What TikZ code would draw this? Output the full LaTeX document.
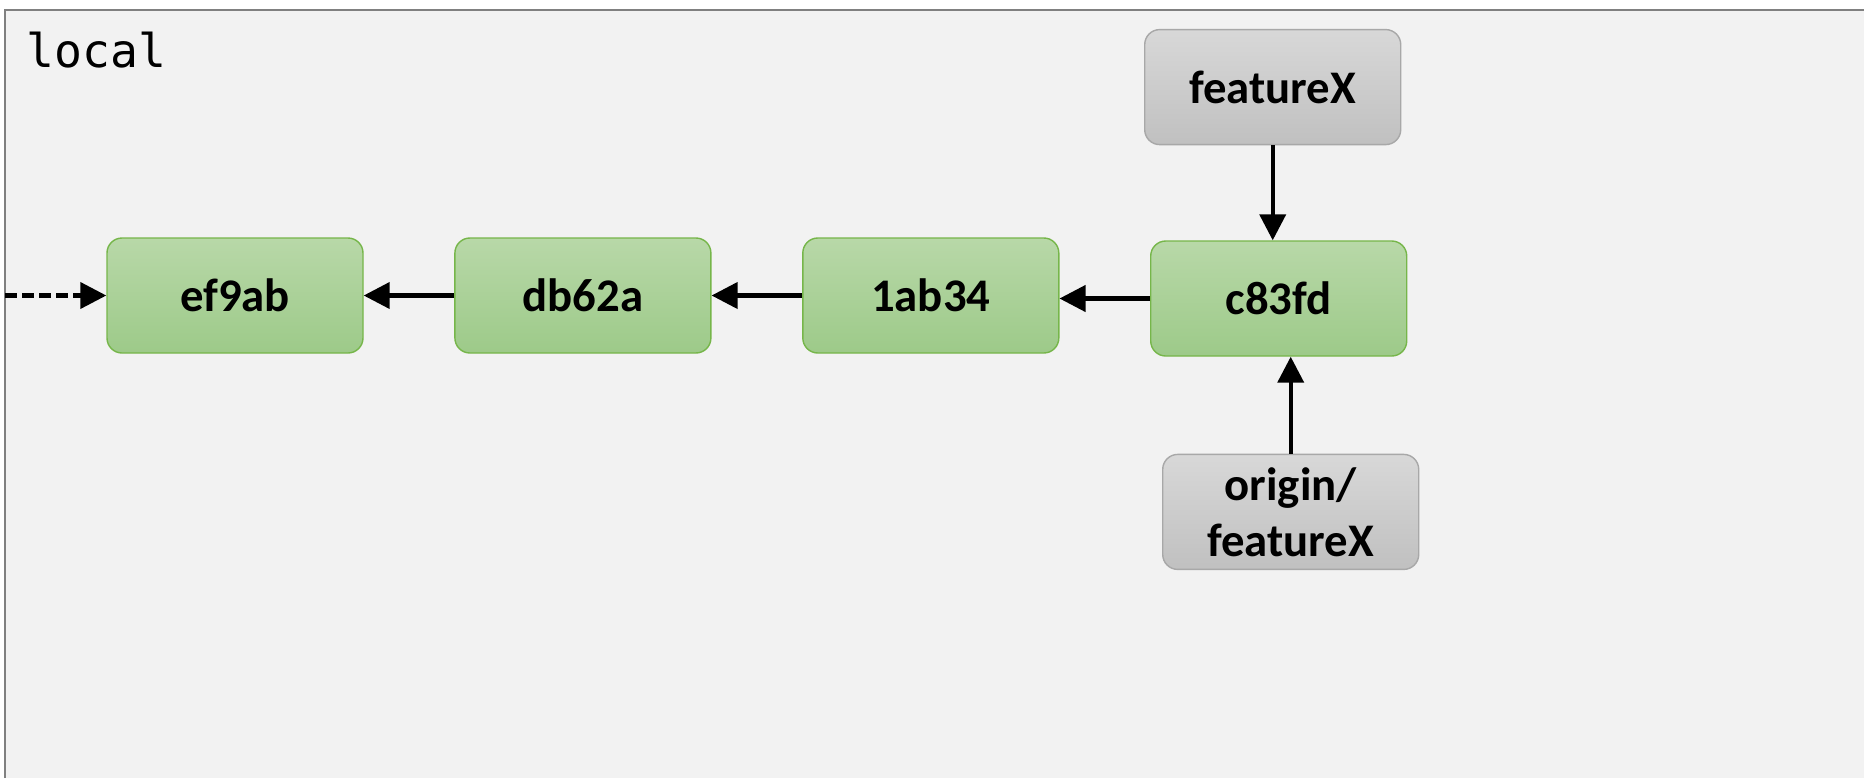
\documentclass[tikz,border=0pt]{standalone}
\usepackage{fontspec}
\setmainfont{Carlito}
\newfontfamily\codefont{DejaVu Sans Mono}
\usetikzlibrary{arrows.meta,positioning}
\definecolor{panel}{RGB}{242,242,242}
\definecolor{frameline}{RGB}{128,128,128}
\definecolor{greentop}{RGB}{184,216,168}
\definecolor{greenbot}{RGB}{157,202,137}
\definecolor{greenline}{RGB}{118,182,74}
\definecolor{graytop}{RGB}{216,216,216}
\definecolor{graybot}{RGB}{192,192,192}
\definecolor{grayline}{RGB}{168,168,168}

\begin{document}
\begin{tikzpicture}[
  >={Triangle[length=2.6mm, width=2.6mm]},
  node distance=9.05mm,
  box/.style={rounded corners=1.5mm, align=center, inner sep=0pt,
              font=\fontsize{13.3}{16}\selectfont\bfseries,
              minimum width=25.6mm, minimum height=11.5mm},
  commit/.style={box, draw=greenline, top color=greentop, bottom color=greenbot},
  branch/.style={box, draw=grayline, top color=graytop, bottom color=graybot},
  flow/.style={->, line width=1.15pt},
  hist/.style={flow, dash pattern=on 1.2mm off 0.5mm},
]
% ---- repository panel ------------------------------------------------------
\useasboundingbox (0,0) rectangle (18.64,7.78);
\fill[panel] (0.05,0) rectangle (18.64,7.68);
\draw[frameline, line width=0.6pt] (0.05,0) -- (0.05,7.68) -- (18.64,7.68);
\node[font=\codefont\fontsize{13.2}{14}\selectfont, anchor=base west,
      inner sep=0pt] (repo) at (0.26,7.11) {local};

% ---- commit chain ----------------------------------------------------------
\node[commit] (ef9ab) at (2.35,4.825) {ef9ab};
\node[commit, right=of ef9ab] (db62a) {db62a};
\node[commit, right=of db62a] (1ab34) {1ab34};
\node[commit, right=of 1ab34, yshift=-0.3mm] (c83fd) {c83fd};

\coordinate (tail) at (0.05,4.825);
\draw[hist] (tail) -- (ef9ab.west);
\foreach \a/\b in {db62a/ef9ab, 1ab34/db62a}
  \draw[flow] (\a) -- (\b);
\draw[flow] (c83fd.west) -- (c83fd.west -| 1ab34.east);

% ---- branch pointers -------------------------------------------------------
\node[branch, above=9.5mm of c83fd, xshift=-0.6mm] (featX) {featureX};
\node[branch, below=9.7mm of c83fd, xshift=1.2mm] (orgX) {origin/\\featureX};

\draw[flow] (featX.south) -- (featX.south |- c83fd.north);
\draw[flow] (orgX.north) -- (orgX.north |- c83fd.south);
\end{tikzpicture}
\end{document}
